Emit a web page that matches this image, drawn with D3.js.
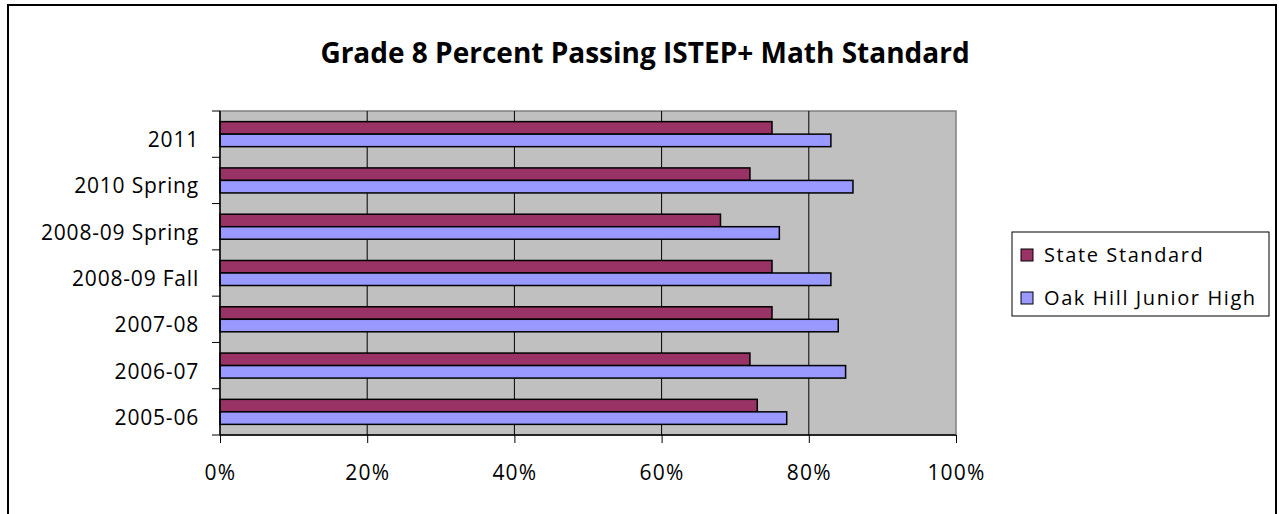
<!DOCTYPE html>
<html>
<head>
<meta charset="utf-8">
<script src="https://cdn.jsdelivr.net/npm/d3@7"></script>
<style>
  body { margin: 0; background: #fff; }
  svg { display: block; }
  text { font-family: "Open Sans", sans-serif; fill: #000; }
</style>
</head>
<body>
<div id="chart"></div>
<script>
var svgWidth = 1279;
var svgHeight = 514;

// data, bottom category first as in the source workbook
var categories = ["2005-06", "2006-07", "2007-08", "2008-09 Fall", "2008-09 Spring", "2010 Spring", "2011"];
var stateStandard = [73, 72, 75, 75, 68, 72, 75];
var oakHill = [77, 85, 84, 83, 76, 86, 83];
var seriesNames = ["State Standard", "Oak Hill Junior High"];
var seriesColors = ["#993366", "#9999FF"];
var xTicks = [0, 20, 40, 60, 80, 100];

var plot = { left: 220, top: 111, right: 956, bottom: 435 };

var svg = d3.select("#chart")
  .append("svg")
  .attr("width", svgWidth)
  .attr("height", svgHeight);

// outer chart border
svg.append("rect")
  .attr("x", 8)
  .attr("y", 5)
  .attr("width", 1268)
  .attr("height", 530)
  .attr("fill", "#fff")
  .attr("stroke", "#000")
  .attr("stroke-width", 2);

// title
svg.append("text")
  .attr("x", 645)
  .attr("y", 63)
  .attr("text-anchor", "middle")
  .attr("font-weight", "bold")
  .attr("font-size", 28)
  .text("Grade 8 Percent Passing ISTEP+ Math Standard");

var xScale = d3.scaleLinear()
  .domain([0, 100])
  .range([plot.left, plot.right]);

var yScale = d3.scaleBand()
  .domain(categories.slice().reverse())
  .range([plot.top, plot.bottom])
  .padding(0);

var inner = d3.scaleBand()
  .domain(seriesNames)
  .range([0, yScale.bandwidth()])
  .paddingInner(0)
  .paddingOuter(0.85);

// plot area background
svg.append("rect")
  .attr("x", plot.left)
  .attr("y", plot.top)
  .attr("width", plot.right - plot.left)
  .attr("height", plot.bottom - plot.top)
  .attr("fill", "#C0C0C0")
  .attr("stroke", "#808080")
  .attr("stroke-width", 1.5);

// vertical gridlines
svg.append("g")
  .selectAll("line")
  .data(xTicks.slice(1, -1))
  .enter()
  .append("line")
  .attr("x1", d => xScale(d))
  .attr("x2", d => xScale(d))
  .attr("y1", plot.top)
  .attr("y2", plot.bottom)
  .attr("stroke", "#000")
  .attr("stroke-width", 1);

// bars
var rows = categories.map(function(c, i) {
  return { cat: c, values: [stateStandard[i], oakHill[i]] };
});

var groups = svg.append("g")
  .selectAll("g")
  .data(rows)
  .enter()
  .append("g")
  .attr("transform", d => `translate(0, ${yScale(d.cat)})`);

groups.selectAll("rect")
  .data(d => d.values.map((v, j) => ({ name: seriesNames[j], value: v, color: seriesColors[j] })))
  .enter()
  .append("rect")
  .attr("x", xScale(0))
  .attr("y", d => inner(d.name))
  .attr("width", d => xScale(d.value) - xScale(0))
  .attr("height", inner.bandwidth())
  .attr("fill", d => d.color)
  .attr("stroke", "#000")
  .attr("stroke-width", 1.5);

// x axis
var bottomAxis = d3.axisBottom(xScale)
  .tickValues(xTicks)
  .tickSize(8)
  .tickFormat(d => d + "%");

var xAxis = svg.append("g")
  .attr("transform", `translate(0, ${plot.bottom})`)
  .call(bottomAxis);
xAxis.select(".domain").attr("stroke", "#000").attr("stroke-width", 1.5).attr("d", `M${plot.left},0H${plot.right}`);
xAxis.selectAll(".tick text")
  .attr("y", 45)
  .attr("dy", 0)
  .attr("font-size", 21)
  .attr("letter-spacing", 1.2)
  .attr("font-family", "'Open Sans', sans-serif");

// y axis: ticks sit on category boundaries
var boundaries = categories.map(c => yScale(c)).concat([plot.bottom]);
var yAxis = svg.append("g");
yAxis.append("line")
  .attr("x1", plot.left).attr("x2", plot.left)
  .attr("y1", plot.top).attr("y2", plot.bottom)
  .attr("stroke", "#000").attr("stroke-width", 1.5);
yAxis.selectAll("line.tick")
  .data(boundaries)
  .enter()
  .append("line")
  .attr("class", "tick")
  .attr("x1", plot.left - 8).attr("x2", plot.left)
  .attr("y1", d => d).attr("y2", d => d)
  .attr("stroke", "#000").attr("stroke-width", 1);
yAxis.selectAll("text")
  .data(categories)
  .enter()
  .append("text")
  .attr("x", 199)
  .attr("y", d => yScale(d) + yScale.bandwidth() / 2 + 13)
  .attr("text-anchor", "end")
  .attr("font-size", 21)
  .attr("letter-spacing", 0.8)
  .text(d => d);

// legend
var legend = svg.append("g");
legend.append("rect")
  .attr("x", 1012)
  .attr("y", 232)
  .attr("width", 257)
  .attr("height", 84)
  .attr("fill", "#fff")
  .attr("stroke", "#000")
  .attr("stroke-width", 1);

var items = legend.selectAll("g")
  .data(seriesNames)
  .enter()
  .append("g")
  .attr("transform", (d, i) => `translate(1021, ${255 + i * 43})`);
items.append("rect")
  .attr("x", 0).attr("y", -6)
  .attr("width", 12).attr("height", 12)
  .attr("fill", (d, i) => seriesColors[i])
  .attr("stroke", "#000").attr("stroke-width", 1);
items.append("text")
  .attr("x", 23)
  .attr("y", 7)
  .attr("font-size", 20)
  .attr("letter-spacing", 1.6)
  .text(d => d);
</script>
</body>
</html>
